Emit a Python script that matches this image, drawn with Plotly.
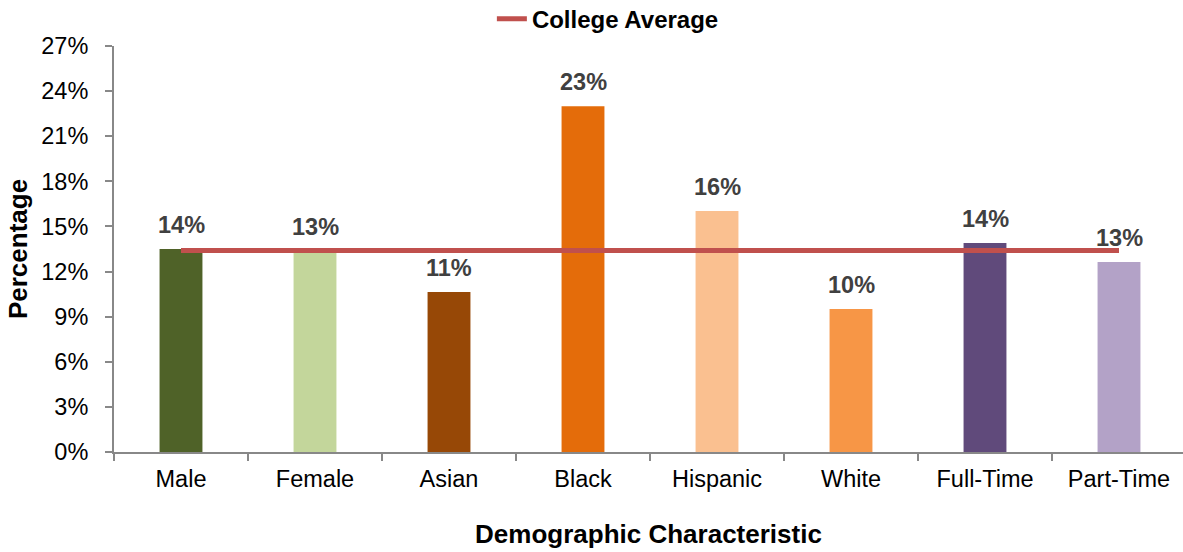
import plotly.graph_objects as go

categories = ["Male", "Female", "Asian", "Black", "Hispanic", "White", "Full-Time", "Part-Time"]
values = [13.5, 13.37, 10.64, 23.0, 16.03, 9.51, 13.9, 12.64]
bar_colors = ["#4F6228", "#C3D69B", "#974806", "#E46C0A", "#FAC090", "#F79646", "#604A7B", "#B3A2C7"]
college_average = 13.4
avg_name = "College Average"
y_ticks = [0, 3, 6, 9, 12, 15, 18, 21, 24, 27]

FONT = "Liberation Sans, Arial, sans-serif"
AXIS_COLOR = "#888888"

fig = go.Figure()
fig.add_trace(go.Bar(
    x=categories, y=values, marker=dict(color=bar_colors, line=dict(width=0)),
    width=0.32, showlegend=False, hoverinfo="x+y",
))
fig.add_trace(go.Scatter(
    x=categories, y=[college_average] * len(categories), mode="lines",
    name=f"<b>{avg_name}</b>", line=dict(color="#C0504D", width=5),
))

for c, v in zip(categories, values):
    fig.add_annotation(
        x=c, y=v, text=f"<b>{v:.0f}%</b>", showarrow=False,
        yanchor="bottom", yshift=9,
        font=dict(family=FONT, size=23.5, color="#404040"),
    )

fig.update_layout(
    width=1183, height=552,
    margin=dict(l=114, r=0, t=46, b=100, autoexpand=False),
    plot_bgcolor="white", paper_bgcolor="white",
    font=dict(family=FONT, color="black"),
    showlegend=True,
    legend=dict(
        orientation="h", x=0.462, xanchor="center", y=1.066, yanchor="middle",
        font=dict(family=FONT, size=24, color="black"),
        bgcolor="rgba(0,0,0,0)", itemwidth=30,
    ),
    xaxis=dict(
        range=[-0.5, (1183 - 114) / 134 - 0.5],
        showline=True, linecolor=AXIS_COLOR, linewidth=2,
        ticks="outside", tickson="boundaries", ticklen=7, tickcolor=AXIS_COLOR, tickwidth=2,
        tickfont=dict(family=FONT, size=23.5, color="black"),
        ticklabelstandoff=5,
        title=dict(text="<b>Demographic Characteristic</b>", font=dict(family=FONT, size=26, color="black"), standoff=34),
        showgrid=False, zeroline=False,
    ),
    yaxis=dict(
        range=[0, 27], tickvals=y_ticks, ticktext=[f"{t}%" for t in y_ticks],
        showline=True, linecolor=AXIS_COLOR, linewidth=2,
        ticks="outside", ticklen=7, tickcolor=AXIS_COLOR, tickwidth=2,
        tickfont=dict(family=FONT, size=23.5, color="black"),
        ticklabelstandoff=12,
        title=dict(text="<b>Percentage</b>", font=dict(family=FONT, size=26, color="black"), standoff=6),
        showgrid=False, zeroline=False,
    ),
)

fig.write_html("out.html")
